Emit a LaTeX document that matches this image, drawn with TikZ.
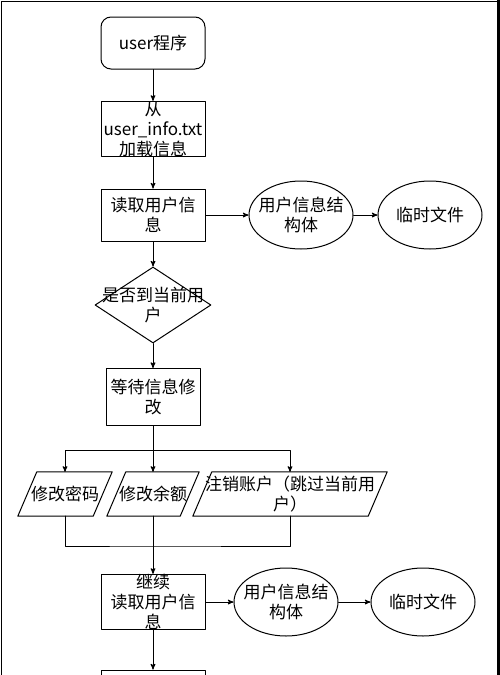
\documentclass[tikz,border=0pt]{standalone}
\usepackage{fontspec}
\setmainfont{Noto Sans CJK SC}
\usetikzlibrary{arrows}
\usetikzlibrary{shapes.geometric}

\begin{document}
\begin{tikzpicture}[line cap=round,line join=round,>=stealth',x=1pt,y=-1pt,
  every node/.style={font=\fontsize{17}{20}\selectfont,align=center,inner sep=0pt},
  box/.style={draw,line width=1.pt,minimum width=104pt,minimum height=52pt},
  oval/.style={draw,line width=1.pt,ellipse,minimum width=104pt,minimum height=68pt},
  io/.style={minimum height=44pt}]
\clip (0,0) rectangle (500,675);
\draw [line width=1.pt] (1,675)-- (1,1)-- (498,1);
\draw [line width=3.pt] (498.5,0)-- (498.5,675);
\node[box,rounded corners=10pt] (prog) at (153,43) {user程序};
\node[box] (load) at (153,129) {从\\user\_info.txt\\加载信息};
\node[box] (read) at (153,215) {读取用户信\\息};
\node[oval] (info) at (301,215) {};
\node at (info) {用户信息结\\构体};
\node[oval] (tmp) at (430,215) {};
\node at (tmp) {临时文件};
\node[draw,line width=1.pt,diamond,minimum width=116pt,minimum height=76pt] (ask) at (153,305) {};
\node at (ask) {是否到当前用\\户};
\node[box,minimum width=94pt,minimum height=57pt] (wait) at (153,397) {等待信息修\\改};
\node[io,minimum width=94pt] (pwd) at (65,494) {修改密码};
\node[io,minimum width=92pt] (money) at (153,494) {修改余额};
\node[io,minimum width=194pt] (del) at (290,494) {注销账户（跳过当前用\\户）};
\foreach \p in {pwd,money,del}
  \draw [line width=1.pt] (\p.south west)-- ([xshift=-19pt]\p.south east)-- (\p.north east)-- ([xshift=19pt]\p.north west)-- cycle;
\node[box] (go) at (153,602) {继续\\读取用户信\\息};
\node[oval] (info2) at (286,602) {};
\node at (info2) {用户信息结\\构体};
\node[oval] (tmp2) at (423,602) {};
\node at (tmp2) {临时文件};
\node[box] (next) at (153,696) {};
\coordinate (fork) at (153,450);
\coordinate (join) at (153,546);
\draw [line width=1.pt,->] (prog)-- (load);
\draw [line width=1.pt,->] (load)-- (read);
\draw [line width=1.pt,->] (read)-- (info);
\draw [line width=1.pt,->] (info)-- (tmp);
\draw [line width=1.pt,->] (read)-- (ask);
\draw [line width=1.pt,->] (ask)-- (wait);
\draw [line width=1.pt,->] (wait)-- (money);
\draw [line width=1.pt,->] (fork)-| (pwd);
\draw [line width=1.pt,->] (fork)-| (del);
\draw [line width=1.pt] (pwd)|- (join)-| (del);
\draw [line width=1.pt,->] (money)-- (go);
\draw [line width=1.pt,->] (go)-- (info2);
\draw [line width=1.pt,->] (info2)-- (tmp2);
\draw [line width=1.pt,->] (go)-- (next);
\end{tikzpicture}
\end{document}
